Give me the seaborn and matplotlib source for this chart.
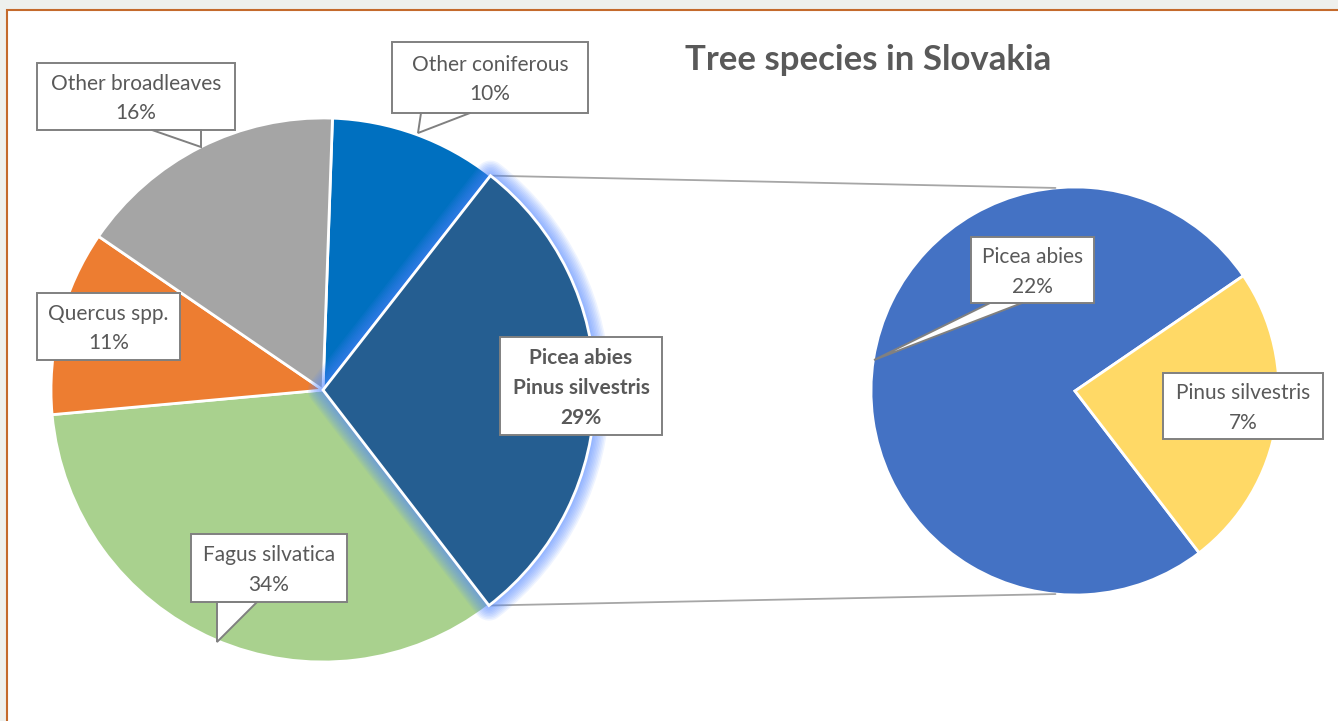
import matplotlib

matplotlib.use("Agg")
import matplotlib.pyplot as plt
import numpy as np
import seaborn as sns
from matplotlib.patches import Polygon, Rectangle, Wedge

W, H = 1338, 721

# main pie (clockwise from top)
main_labels = ["Other coniferous", "Picea abies\nPinus silvestris", "Fagus silvatica",
               "Quercus spp.", "Other broadleaves"]
main_values = [10, 29, 34, 11, 16]
main_colors = ["#0070C0", "#255E91", "#A9D18E", "#ED7D31", "#A5A5A5"]

# secondary pie (split of the dark slice)
sub_labels = ["Picea abies", "Pinus silvestris"]
sub_values = [22, 7]
sub_colors = ["#4472C4", "#FFD966"]

TEXT = "#595959"

sns.set_theme(style="white")
plt.rcParams["font.family"] = ["Lato", "DejaVu Sans"]


def Y(y):
    # screenshot pixel row -> data y
    return H - y


fig = plt.figure(figsize=(W / 100, H / 100), dpi=100, facecolor="#eef0ed")
ax = fig.add_axes([0, 0, 1, 1])
ax.set_facecolor("none")

# chart area
ax.add_patch(Rectangle((7, -5), W, Y(10) + 5, facecolor="white",
                       edgecolor="#c46a2c", lw=1.5, zorder=0))

c1, r1 = (323, Y(390)), 272
c2, r2 = (1075, Y(391)), 204

wedges1, _ = ax.pie(main_values, colors=main_colors, startangle=88, counterclock=False,
                    center=c1, radius=r1, frame=True,
                    wedgeprops=dict(edgecolor="white", linewidth=2))
wedges2, _ = ax.pie(sub_values, colors=sub_colors, startangle=-52.5, counterclock=False,
                    center=c2, radius=r2, frame=True,
                    wedgeprops=dict(edgecolor="white", linewidth=2))

# glow around the split slice
dark = wedges1[1]
dark.set_zorder(3)
for i in range(10):
    ax.add_patch(Wedge(c1, r1, dark.theta1, dark.theta2, facecolor="none",
                       edgecolor="#4f86ff", lw=2 + 2.2 * i, alpha=0.09,
                       joinstyle="round", zorder=2))

# connector lines
for th_main, th_sub in [(dark.theta2, 95.5), (dark.theta1, -95.5)]:
    p0 = (c1[0] + r1 * np.cos(np.radians(th_main)), c1[1] + r1 * np.sin(np.radians(th_main)))
    p1 = (c2[0] + r2 * np.cos(np.radians(th_sub)), c2[1] + r2 * np.sin(np.radians(th_sub)))
    ax.plot([p0[0], p1[0]], [p0[1], p1[1]], color="#a6a6a6", lw=1.3, zorder=1)


def callout(x0, y0, x1, y1, text, pointer=None, bold=False):
    pts = [(x0, y0), (x1, y0), (x1, y1)]
    if pointer is not None:
        a, b, tip = pointer
        pts += [(b, y1), tip, (a, y1)]
    pts += [(x0, y1)]
    ax.add_patch(Polygon([(x, Y(y)) for x, y in pts], closed=True, facecolor="white",
                         edgecolor="#808080", lw=1.4, zorder=5))
    ax.text((x0 + x1) / 2, Y((y0 + y1) / 2 + 2), text, ha="center", va="center",
            fontsize=15, color=TEXT, linespacing=1.6, zorder=6,
            fontweight="bold" if bold else "normal")


pct = [f"{v}%" for v in main_values]
callout(392, 42, 588, 113, f"{main_labels[0]}\n{pct[0]}", pointer=(470, 421, (418, 133)))
callout(500, 337, 662, 435, f"{main_labels[1]}\n{pct[1]}", bold=True)
callout(191, 534, 347, 602, f"{main_labels[2]}\n{pct[2]}", pointer=(257, 217, (217, 642)))
callout(37, 293, 180, 360, f"{main_labels[3]}\n{pct[3]}")
callout(37, 63, 235, 130, f"{main_labels[4]}\n{pct[4]}", pointer=(201, 152, (201, 147)))
callout(971, 237, 1094, 303, f"{sub_labels[0]}\n{sub_values[0]}%", pointer=(1022, 990, (874, 360)))
callout(1163, 373, 1323, 439, f"{sub_labels[1]}\n{sub_values[1]}%")

ax.text(868, Y(60), "Tree species in Slovakia", ha="center", va="center",
        fontsize=25, fontweight="bold", color=TEXT)

ax.set_xlim(0, W)
ax.set_ylim(0, H)
ax.set_aspect("auto")
ax.axis("off")

fig.savefig("out.png", dpi=100, facecolor=fig.get_facecolor())
